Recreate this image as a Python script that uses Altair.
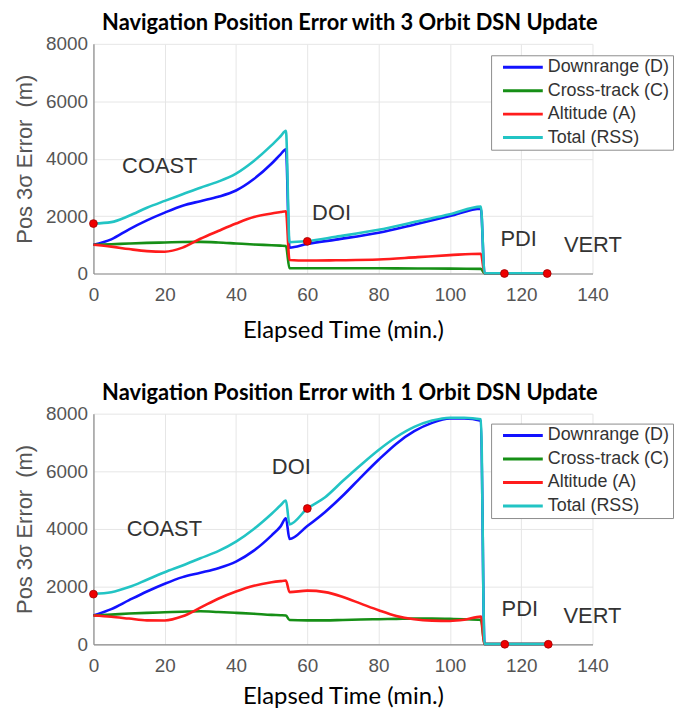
import altair as alt
import pandas as pd

SERIES = ["Downrange (D)", "Cross-track (C)", "Altitude (A)", "Total (RSS)"]
COLORS = ["#1212ff", "#168f16", "#ff1c1c", "#22c4c4"]

# ---- Top panel: 3 orbit DSN update ----
t_top = [0, 5, 10, 15, 20, 25, 30, 35, 40, 45, 50, 52.5, 54, 55, 60, 68, 80, 91, 100, 108.7, 109.7, 115, 127.5]
D_top = [1000, 1190, 1540, 1850, 2120, 2360, 2520, 2670, 2890, 3290, 3830, 4150, 4330,
         900, 1030, 1180, 1420, 1735, 2000, 2260, 10, 10, 10]
C_top = [1000, 1020, 1045, 1065, 1080, 1095, 1100, 1080, 1045, 1010, 985, 970, 960,
         180, 180, 180, 180, 175, 170, 160, 10, 10, 10]
A_top = [1000, 935, 850, 780, 760, 900, 1210, 1480, 1740, 1965, 2090, 2140, 2170,
         470, 450, 460, 485, 570, 640, 690, 10, 10, 10]
T_top = [1740, 1790, 2010, 2290, 2530, 2760, 2990, 3200, 3480, 3920, 4470, 4780, 4970,
         1090, 1130, 1280, 1520, 1820, 2060, 2330, 10, 10, 10]

# ---- Bottom panel: 1 orbit DSN update ----
t_bot = [0, 5, 10, 15, 20, 25, 30, 35, 40, 45, 50, 52.5, 54, 55, 60, 65, 70, 75, 80, 85, 90,
         95, 100, 104, 108.7, 109.7, 115, 127.5]
D_bot = [1000, 1220, 1530, 1830, 2100, 2330, 2480, 2640, 2870, 3250, 3780, 4090, 4370,
         3650, 4100, 4590, 5160, 5790, 6400, 6960, 7390, 7680, 7830, 7830, 7750, 10, 10, 10]
C_bot = [1000, 1030, 1065, 1090, 1110, 1130, 1145, 1120, 1090, 1060, 1020, 1010, 1000,
         840, 830, 830, 845, 860, 870, 880, 890, 890, 880, 870, 840, 10, 10, 10]
A_bot = [1000, 955, 892, 830, 825, 970, 1270, 1580, 1830, 2030, 2150, 2190, 2210,
         1810, 1860, 1810, 1640, 1410, 1180, 980, 870, 820, 810, 850, 960, 10, 10, 10]
T_bot = [1750, 1805, 1985, 2240, 2500, 2735, 2985, 3230, 3560, 4000, 4530, 4820, 4985,
         4160, 4710, 5100, 5670, 6220, 6740, 7190, 7540, 7760, 7860, 7860, 7805, 10, 10, 10]

# ---- Event markers and phase labels ----
mark_t_top = [0, 60, 115.3, 127.3]
mark_v_top = [1740, 1120, 0, 0]
mark_t_bot = [0, 60, 115.4, 127.6]
mark_v_bot = [1740, 4710, 0, 0]

phases = ["COAST", "DOI", "PDI", "VERT"]
phase_x_top = [18.6, 66.8, 119.3, 140.1]
phase_y_top = [3740, 2120, 1200, 1000]
phase_x_bot = [19.9, 55.5, 119.6, 140.0]
phase_y_bot = [3990, 6160, 1210, 970]

X_TICKS = [0, 20, 40, 60, 80, 100, 120, 140]
Y_TICKS = [0, 2000, 4000, 6000, 8000]


def panel(title, t, D, C, A, T, mt, mv, px, py, h, leg_y, xt_pad):
    rows = []
    for name, vals in zip(SERIES, [D, C, A, T]):
        for ti, vi in zip(t, vals):
            rows.append({"t": ti, "v": vi, "series": name})
    df = pd.DataFrame(rows)
    marks = pd.DataFrame({"t": mt, "v": mv})
    labels = pd.DataFrame({"t": px, "v": py, "label": phases})

    xenc = alt.X("t:Q", scale=alt.Scale(domain=[0, 140], nice=False),
                 axis=alt.Axis(values=X_TICKS, title="Elapsed Time (min.)",
                               titlePadding=xt_pad, labelFlush=False))
    yenc = alt.Y("v:Q", scale=alt.Scale(domain=[0, 8000], nice=False),
                 axis=alt.Axis(values=Y_TICKS, format="d", title="Pos 3σ Error\u00a0 (m)"))

    layers = []
    for name in SERIES:
        layers.append(
            alt.Chart(df).transform_filter(alt.datum.series == name)
            .mark_line(strokeWidth=2.6, interpolate="monotone")
            .encode(
                x=xenc, y=yenc,
                color=alt.Color("series:N",
                                scale=alt.Scale(domain=SERIES, range=COLORS),
                                legend=alt.Legend(
                                    title=None, orient="none", legendX=400, legendY=leg_y,
                                    symbolType="M0,0H8", symbolSize=100, symbolStrokeWidth=3,
                                    labelFont="Liberation Sans", labelFontSize=18,
                                    labelColor="#333333", labelOffset=36,
                                    padding=3, rowPadding=5.6,
                                    strokeColor="#8c8c8c", fillColor="white")),
            )
        )
    dots = alt.Chart(marks).mark_point(filled=True, size=62, color="#ee0000",
                                         stroke="#a00000", strokeWidth=0.8,
                                         opacity=1, shape="circle").encode(x="t:Q", y="v:Q")
    texts = alt.Chart(labels).mark_text(font="Liberation Sans", fontSize=22,
                                        color="#333333").encode(x="t:Q", y="v:Q", text="label:N")
    return alt.layer(*layers, dots, texts).properties(
        width=502, height=h,
        title=alt.TitleParams(title, font="Lato", fontSize=22, fontWeight="bold",
                              color="black", offset=0, dx=7, frame="group"))


top = panel("Navigation Position Error with 3 Orbit DSN Update",
            t_top, D_top, C_top, A_top, T_top, mark_t_top, mark_v_top,
            phase_x_top, phase_y_top, 231, 11.5, 14)
bot = panel("Navigation Position Error with 1 Orbit DSN Update",
            t_bot, D_bot, C_bot, A_bot, T_bot, mark_t_bot, mark_v_bot,
            phase_x_bot, phase_y_bot, 232, 10, 10)

chart = alt.vconcat(top, bot, spacing=40).resolve_scale(color="independent").resolve_legend(
    color="independent").properties(
    padding={"left": 13, "top": 10, "right": 0, "bottom": 0},
    background="white",
).configure_view(strokeWidth=0).configure_axis(
    labelFont="Liberation Sans", labelFontSize=19, labelColor="#555555",
    domainColor="#8a8a8a", domainWidth=1.2, gridColor="#e6e6e6", gridWidth=1,
    ticks=False, tickSize=0, labelPadding=6,
    titleFontWeight="normal",
).configure_axisX(
    labelPadding=12, titleFont="Lato", titleFontSize=24, titleColor="black",
).configure_axisY(
    titleFont="Liberation Sans", titleFontSize=22, titleColor="#555555", titlePadding=9.5,
)

chart.save("out.html", embed_options={"renderer": "svg", "actions": False})
